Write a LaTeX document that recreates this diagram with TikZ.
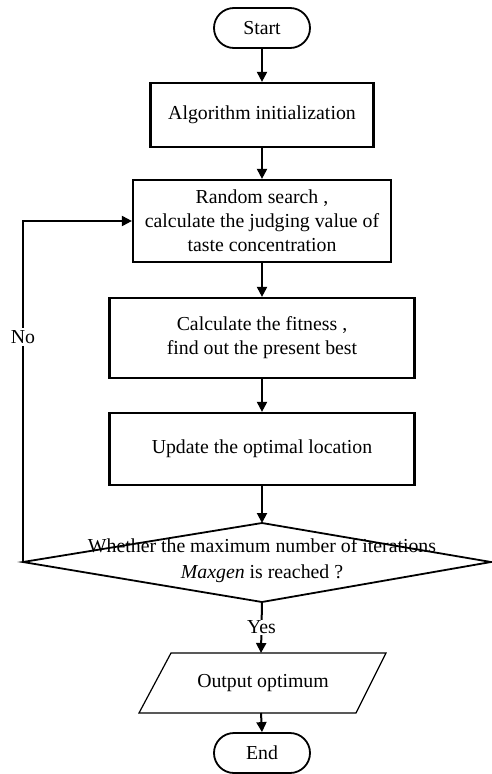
\documentclass[tikz,border=0pt]{standalone}
\usepackage{fontspec}
\setmainfont{Liberation Serif}
\usetikzlibrary{arrows.meta,shapes.misc,calc}
\begin{document}
\begin{tikzpicture}[x=1pt,y=-1pt,
  every node/.style={font=\fontsize{19.8}{24}\selectfont},
  pill/.style={draw,line width=1.8pt,rounded rectangle,minimum width=96pt,minimum height=40pt,inner sep=0pt},
  proc/.style={draw,line width=2.2pt,rectangle,align=center,inner sep=0pt},
  arr/.style={line width=2pt,-{Triangle[length=10pt,width=10pt]}},
  ln/.style={line width=2pt}]
\useasboundingbox (0,0) rectangle (492,774);
\node[pill] (start) at (262,28) {Start};
\node[proc,minimum width=223pt,minimum height=64pt] (init) at (262,115) {Algorithm initialization};
\node[proc,minimum width=258pt,minimum height=82pt] (rand) at (262,221) {Random search ,\\calculate the judging value of\\taste concentration};
\node[proc,minimum width=305pt,minimum height=80pt] (fit) at (262,338) {Calculate the fitness ,\\find out the present best};
\node[proc,minimum width=305pt,minimum height=72pt] (upd) at (262,449) {Update the optimal location};
% decision
\coordinate (dtop) at (262,523);
\coordinate (dright) at (491,562);
\coordinate (dbot) at (262,602);
\coordinate (dleft) at (23,562);
\draw[line width=1.8pt] (dtop) -- (dright) -- (dbot) -- (dleft) -- cycle;
\node[align=center,font=\fontsize{19.8}{26}\selectfont] (dec) at (262,561) {Whether the maximum number of iterations\\\textit{Maxgen} is reached ?};
% output
\coordinate (otl) at (171,653);
\coordinate (otr) at (386,653);
\coordinate (obr) at (356,713);
\coordinate (obl) at (139,713);
\draw[line width=1.2pt] (otl) -- (otr) -- (obr) -- (obl) -- cycle;
\node (out) at (263,683) {Output optimum};
\node[pill] (end) at (262,753) {End};
% connectors
\draw[arr] (start.south) -- (init.north);
\draw[arr] (init.south) -- (rand.north);
\draw[arr] (rand.south) -- (fit.north);
\draw[arr] (fit.south) -- (upd.north);
\draw[arr] (upd.south) -- (dtop);
\coordinate (otop) at ($(otl)!0.4186!(otr)$);
\draw[arr] (dbot) -- node[fill=white,inner sep=1pt] (yes) {Yes} (otop);
\coordinate (obot) at ($(obl)!0.5622!(obr)$);
\draw[arr] (obot) -- (end.north);
\coordinate (loopc) at (23,221);
\draw[arr] (dleft) -- node[fill=white,inner sep=2pt,pos=0.66] (no) {No} (loopc) -- (rand.west);
\end{tikzpicture}
\end{document}
